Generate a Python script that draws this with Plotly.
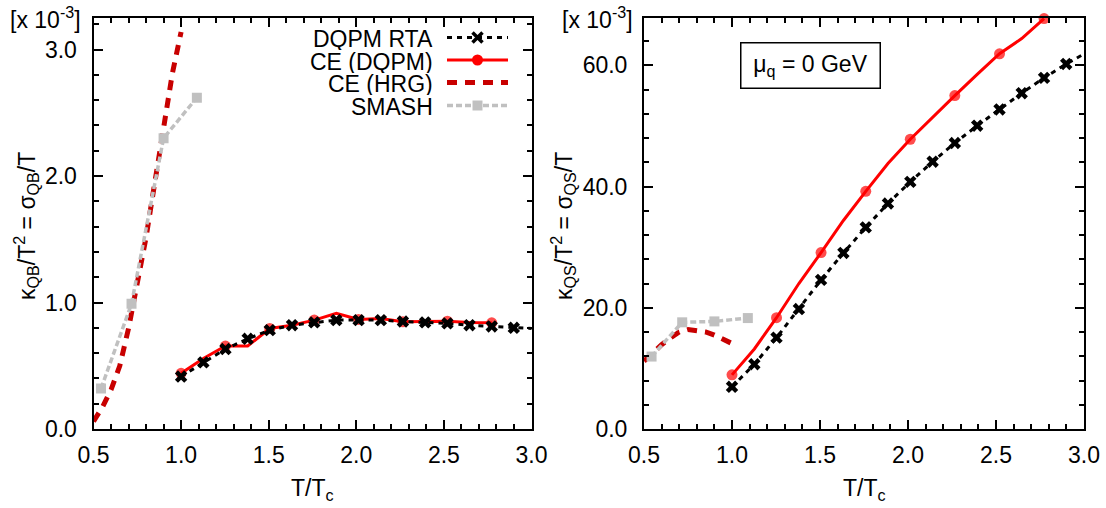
import plotly.graph_objects as go

# ---------------- data (values in units of 1e-3) ----------------
T_rta = [1.0, 1.127, 1.253, 1.38, 1.506, 1.633, 1.76, 1.886, 2.013, 2.14,
         2.266, 2.393, 2.52, 2.646, 2.773, 2.899, 3.026]
T_ce = T_rta[:15]
T_hrg = [0.5, 0.55, 0.6, 0.65, 0.7, 0.75, 0.8, 0.85, 0.9, 0.95, 1.0]
T_smash = [0.543, 0.717, 0.9, 1.09]

qb_rta = [0.415, 0.527, 0.632, 0.713, 0.782, 0.821, 0.843, 0.861, 0.861, 0.861,
          0.850, 0.843, 0.835, 0.821, 0.811, 0.800, 0.793]
qb_ce = [0.44, 0.558, 0.656, 0.656, 0.795, 0.821, 0.861, 0.914, 0.866, 0.874,
         0.848, 0.848, 0.853, 0.843, 0.840]
qb_hrg = [0.06, 0.17, 0.31, 0.50, 0.795, 1.145, 1.515, 1.95, 2.39, 2.81, 3.14]
qb_smash = [0.32, 0.99, 2.30, 2.62]

qs_rta = [6.96, 10.68, 15.07, 19.78, 24.6, 29.04, 33.26, 37.2, 40.77, 44.1,
          47.18, 50.03, 52.71, 55.4, 57.92, 60.22, 62.3]
qs_ce = [8.93, 13.2, 18.36, 24.0, 29.1, 34.4, 39.2, 43.8, 47.8, 51.5,
         55.0, 58.5, 61.9, 64.4, 67.7]
qs_hrg = [11.2, 12.6, 13.9, 15.0, 16.0, 16.4, 16.3, 16.0, 15.5, 14.8, 14.1]
qs_smash = [11.95, 17.6, 17.75, 18.3]

legend_names = ["DQPM RTA", "CE (DQPM)", "CE (HRG)", "SMASH"]
x_ticks = [0.5, 1.0, 1.5, 2.0, 2.5, 3.0]
qb_ticks = [0.0, 1.0, 2.0, 3.0]
qs_ticks = [0.0, 20.0, 40.0, 60.0]

# ---------------- styles ----------------
W, H = 1106, 508
FONT = "Liberation Sans, Arial, Helvetica, sans-serif"
FS = 23
BLACK = "#000000"
RED = "#ff0000"
DRED = "#c80000"
GREY = "#c0c0c0"

RTA_LINE = dict(color=BLACK, width=3, dash="5px,5px")
CE_LINE = dict(color=RED, width=3)
HRG_LINE = dict(color=DRED, width=5, dash="10px,8px")
SM_LINE = dict(color=GREY, width=3.5, dash="6px,3px")


def ce_marker_sizes(n):
    return [11 if i % 2 == 0 else 0 for i in range(n)]


def px(x):
    return x / W


def py(y):
    return 1 - y / H


fig = go.Figure()

for xa, ya, rta, ce, hrg, sm in [("x", "y", qb_rta, qb_ce, qb_hrg, qb_smash),
                                  ("x2", "y2", qs_rta, qs_ce, qs_hrg, qs_smash)]:
    fig.add_trace(go.Scatter(x=T_hrg, y=hrg, mode="lines", line=HRG_LINE,
                             xaxis=xa, yaxis=ya, showlegend=False))
    fig.add_trace(go.Scatter(x=T_smash, y=sm, mode="lines+markers", line=SM_LINE,
                             marker=dict(symbol="square", size=10, color=GREY),
                             xaxis=xa, yaxis=ya, showlegend=False))
    fig.add_trace(go.Scatter(x=T_ce, y=ce, mode="lines+markers", line=CE_LINE,
                             marker=dict(symbol="circle", size=ce_marker_sizes(len(ce)),
                                         color=RED, line=dict(width=0)),
                             cliponaxis=False,
                             xaxis=xa, yaxis=ya, showlegend=False))
    fig.add_trace(go.Scatter(x=T_rta, y=rta, mode="lines+markers", line=RTA_LINE,
                             marker=dict(symbol="x", size=11, color=BLACK,
                                         line=dict(width=0)),
                             xaxis=xa, yaxis=ya, showlegend=False))

axis_common = dict(showline=True, linecolor=BLACK, linewidth=2, mirror="allticks",
                   ticks="inside", ticklen=9, tickwidth=1.5, tickcolor=BLACK,
                   showgrid=False, zeroline=False, automargin=False,
                   tickfont=dict(family=FONT, size=FS, color=BLACK),
                   tickformat=".1f")

ydom = [py(429), py(18)]
fig.update_layout(
    width=W, height=H,
    margin=dict(l=0, r=0, t=0, b=0, pad=0),
    paper_bgcolor="white", plot_bgcolor="white",
    showlegend=False,
    xaxis=dict(axis_common, domain=[px(93.5), px(531.5)], range=[0.5, 3.0],
               tickvals=x_ticks, anchor="y", ticklabelstandoff=4,
               minor=dict(ticks="inside", ticklen=5, tickwidth=1.5, tickcolor=BLACK,
                          dtick=0.1, showgrid=False)),
    yaxis=dict(axis_common, domain=ydom, range=[0, 3.25], tickvals=qb_ticks,
               anchor="x", ticklabelstandoff=10,
               minor=dict(ticks="inside", ticklen=5, tickwidth=1.5, tickcolor=BLACK,
                          dtick=0.2, showgrid=False)),
    xaxis2=dict(axis_common, domain=[px(644), px(1084)], range=[0.5, 3.0],
                tickvals=x_ticks, anchor="y2", ticklabelstandoff=4,
                minor=dict(ticks="inside", ticklen=5, tickwidth=1.5, tickcolor=BLACK,
                           dtick=0.1, showgrid=False)),
    yaxis2=dict(axis_common, domain=ydom, range=[0, 67.8], tickvals=qs_ticks,
                anchor="x2", ticklabelstandoff=10,
                minor=dict(ticks="inside", ticklen=5, tickwidth=1.5, tickcolor=BLACK,
                           dtick=4.0, showgrid=False)),
)

ann = []
font = dict(family=FONT, size=FS, color=BLACK)
# scale labels
for xl in [8, 560]:
    ann.append(dict(text="[x 10<sup>-3</sup>]", x=px(xl), y=py(1), xref="paper", yref="paper",
                    xanchor="left", yanchor="top", showarrow=False, font=font))
# axis titles
for xc in [312.5, 864]:
    ann.append(dict(text="T/T<sub>c</sub>", x=px(xc), y=py(489), xref="paper", yref="paper",
                    xanchor="center", yanchor="middle", showarrow=False, font=font))
ann.append(dict(text="κ<sub>QB</sub>/T<sup>2</sup> = σ<sub>QB</sub>/T", x=px(26), y=py(226),
                xref="paper", yref="paper", xanchor="center", yanchor="middle",
                textangle=-90, showarrow=False, font=font))
ann.append(dict(text="κ<sub>QS</sub>/T<sup>2</sup> = σ<sub>QS</sub>/T", x=px(563), y=py(226),
                xref="paper", yref="paper", xanchor="center", yanchor="middle",
                textangle=-90, showarrow=False, font=font))
# mu box
ann.append(dict(text="μ<sub>q</sub> = 0 GeV", x=px(810), y=py(65), xref="paper", yref="paper",
                xanchor="center", yanchor="middle", showarrow=False, font=font,
                bordercolor=BLACK, borderwidth=1.5, borderpad=6, width=126, height=32,
                bgcolor="white"))

# custom legend (text right-aligned, key on the right)
leg_rows = [39, 61.5, 84, 107]
shapes = []
for name, yr in zip(legend_names, leg_rows):
    ann.append(dict(text=name, x=px(435), y=py(yr), xref="paper", yref="paper",
                    xanchor="right", yanchor="middle", showarrow=False, font=font,
                    height=22))

x0k, x1k, xm = 447, 508, 477.5
styles = [RTA_LINE, CE_LINE, HRG_LINE, SM_LINE]
for st, yr in zip(styles, leg_rows):
    yk = yr - 1.5
    shapes.append(dict(type="line", xref="paper", yref="paper",
                       x0=px(x0k), x1=px(x1k), y0=py(yk), y1=py(yk),
                       line=dict(color=st["color"], width=st["width"],
                                 dash=st.get("dash", "solid"))))
# key markers
yk = leg_rows[0] - 1.5
r = 5
shapes.append(dict(type="path", xref="paper", yref="paper",
                   path=f"M {px(xm-r)},{py(yk-r)} L {px(xm+r)},{py(yk+r)} M {px(xm-r)},{py(yk+r)} L {px(xm+r)},{py(yk-r)}",
                   line=dict(color=BLACK, width=3.5)))
yk = leg_rows[1] - 1.5
shapes.append(dict(type="circle", xref="paper", yref="paper",
                   x0=px(xm-5.5), x1=px(xm+5.5), y0=py(yk-5.5), y1=py(yk+5.5),
                   fillcolor=RED, line=dict(width=0)))
yk = leg_rows[3] - 1.5
shapes.append(dict(type="rect", xref="paper", yref="paper",
                   x0=px(xm-5), x1=px(xm+5), y0=py(yk-5), y1=py(yk+5),
                   fillcolor=GREY, line=dict(width=0)))

fig.update_layout(annotations=ann, shapes=shapes)
fig.write_html("out.html")
